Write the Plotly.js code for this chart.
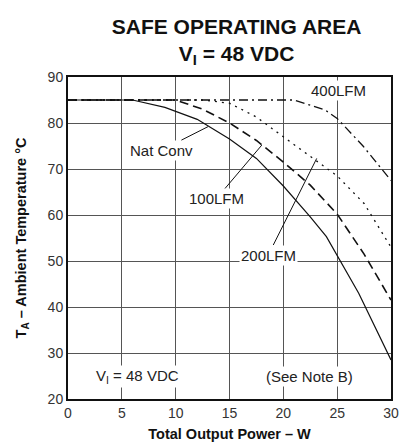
<!DOCTYPE html>
<html>
<head>
<meta charset="utf-8">
<script src="https://cdn.plot.ly/plotly-3.0.1.min.js"></script>
<style>html,body{margin:0;padding:0;background:#fff;}#chart{width:403px;height:443px;}</style>
</head>
<body>
<div id="chart"></div>
<script>
// Total output power (W) and ambient temperature (°C) for each airflow curve
const natConvX = [0, 6, 9, 12, 15, 17.5, 20, 22.5, 24, 27, 30];
const natConvY = [85, 85, 83.4, 80.8, 76.5, 72.3, 66.3, 59.6, 55.3, 43, 28.5];
const lfm100X = [0, 10, 12.5, 15, 17.5, 20, 22.5, 25, 27.5, 30];
const lfm100Y = [85, 85, 83, 80, 76.2, 71.5, 66.5, 60.2, 51.5, 41.5];
const lfm200X = [0, 12.5, 15, 17.5, 20, 22.5, 25, 27.5, 30];
const lfm200Y = [85, 85, 84.3, 81.3, 77, 72.8, 68.5, 62.5, 53];
const lfm400X = [0, 21, 23.9, 25, 27.4, 30];
const lfm400Y = [85, 85, 82.8, 81, 75, 67.5];
const xTicks = [0, 5, 10, 15, 20, 25, 30];
const yTicks = [20, 30, 40, 50, 60, 70, 80, 90];

const lineCol = '#111';
const traces = [
  {x: natConvX, y: natConvY, name: 'Nat Conv', mode: 'lines', line: {color: lineCol, width: 1.2}},
  {x: lfm100X, y: lfm100Y, name: '100LFM', mode: 'lines', line: {color: lineCol, width: 1.6, dash: '9px,5px'}},
  {x: lfm200X, y: lfm200Y, name: '200LFM', mode: 'lines', line: {color: lineCol, width: 1.3, dash: '2px,5px'}},
  {x: lfm400X, y: lfm400Y, name: '400LFM', mode: 'lines', line: {color: lineCol, width: 1.3, dash: '9px,4px,2px,4px'}}
];

const font = 'Liberation Sans, Arial, sans-serif';
const ann = (text, x, y, extra) => Object.assign({text, x, y, xref: 'x', yref: 'y', showarrow: false,
  font: {family: font, size: 15, color: '#222'}, bgcolor: '#fff', borderpad: 1}, extra || {});
const leader = {showarrow: true, arrowhead: 0, arrowwidth: 1, arrowcolor: '#111', axref: 'x', ayref: 'y', standoff: 0};

const layout = {
  width: 403, height: 443,
  margin: {l: 68, r: 12, t: 77, b: 44},
  paper_bgcolor: '#fff', plot_bgcolor: '#fff',
  showlegend: false,
  title: {text: '<b>SAFE OPERATING AREA<br>V<sub>I</sub> = 48 VDC</b>', x: 0.587, xanchor: 'center',
    yref: 'container', y: 0.924, yanchor: 'middle',
    font: {family: font, size: 21, color: '#111'}},
  xaxis: {range: [0, 30], tickvals: xTicks, ticktext: xTicks.map(String), showline: true, mirror: true, linewidth: 2, linecolor: '#111',
    showgrid: true, gridcolor: '#555', gridwidth: 1, zeroline: false, ticks: '', ticklen: 0,
    tickfont: {family: font, size: 14, color: '#333'},
    title: {text: '<b>Total Output Power – W</b>', font: {family: font, size: 14.5, color: '#111'}, standoff: 9}},
  yaxis: {range: [20, 90], tickvals: yTicks, ticktext: yTicks.map(String), showline: true, mirror: true, linewidth: 2, linecolor: '#111',
    showgrid: true, gridcolor: '#555', gridwidth: 1, zeroline: false, ticks: '', ticklen: 0,
    tickfont: {family: font, size: 14, color: '#333'},
    title: {text: '<b>T<sub>A</sub> – Ambient Temperature °C</b>', font: {family: font, size: 14.5, color: '#111'}, standoff: 18}},
  annotations: [
    ann('400LFM', 25.1, 87),
    ann('Nat Conv', 13.0, 79.2, Object.assign({ax: 8.7, ay: 74.1}, leader)),
    ann('100LFM', 18.0, 75.2, Object.assign({ax: 13.8, ay: 63.6}, leader)),
    ann('200LFM', 23.1, 72.3, Object.assign({ax: 18.6, ay: 51.3}, leader)),
    ann('V<sub>I</sub> = 48 VDC', 6.5, 25),
    ann('(See Note B)', 22.4, 24.8)
  ]
};

Plotly.newPlot('chart', traces, layout, {displayModeBar: false, staticPlot: true});
</script>
</body>
</html>
